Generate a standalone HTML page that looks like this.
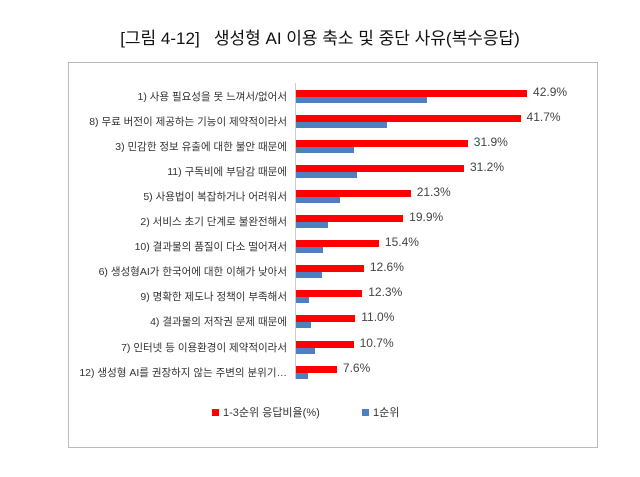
<!DOCTYPE html>
<html><head><meta charset="utf-8"><style>
body{margin:0;background:#fff;width:640px;height:477px;position:relative;overflow:hidden;font-family:"Liberation Sans","Noto Sans CJK KR",sans-serif}
.t{position:absolute;top:24px;left:0;width:640px;text-align:center;font-size:17px;color:#111}
.box{position:absolute;left:68px;top:62px;width:530px;height:386px;border:1px solid #bbb;box-sizing:border-box}
.l{position:absolute;right:353px;font-size:10.5px;color:#333;white-space:nowrap;text-align:right}
.r{position:absolute;left:296px;height:7px;background:#f00}
.b{position:absolute;left:296px;height:6px;background:#4f7fbf}
.v{position:absolute;font-size:12px;color:#444}
.ax{position:absolute;left:295px;top:83px;width:1px;height:296px;background:#ccc}
</style></head><body>
<div class="t">[그림 4-12]&nbsp;&nbsp; 생성형 AI 이용 축소 및 중단 사유(복수응답)</div>
<div class="box"></div>
<div class="ax"></div>
<div id="c"></div>
<div style="position:absolute;left:212px;top:409px;width:7px;height:7px;background:#f00"></div>
<div style="position:absolute;left:223px;top:404px;font-size:11px;color:#333">1-3순위 응답비율(%)</div>
<div style="position:absolute;left:362px;top:409px;width:7px;height:7px;background:#4f7fbf"></div>
<div style="position:absolute;left:373px;top:404px;font-size:11px;color:#333">1순위</div>
<script>
var d=[["1) 사용 필요성을 못 느껴서/없어서",42.9,427],["8) 무료 버전이 제공하는 기능이 제약적이라서",41.7,387],["3) 민감한 정보 유출에 대한 불안 때문에",31.9,354],["11) 구독비에 부담감 때문에",31.2,357],["5) 사용법이 복잡하거나 어려워서",21.3,340],["2) 서비스 초기 단계로 불완전해서",19.9,328],["10) 결과물의 품질이 다소 떨어져서",15.4,323],["6) 생성형AI가 한국어에 대한 이해가 낮아서",12.6,322],["9) 명확한 제도나 정책이 부족해서",12.3,309],["4) 결과물의 저작권 문제 때문에",11.0,311],["7) 인터넷 등 이용환경이 제약적이라서",10.7,315],["12) 생성형 AI를 권장하지 않는 주변의 분위기…",7.6,308]];
var h="";d.forEach(function(e,i){var y=90+i*25.05;var w=e[1]*5.385;
h+='<div class="l" style="top:'+(y-1)+'px">'+e[0]+'</div>';
h+='<div class="r" style="top:'+y+'px;width:'+w+'px"></div>';
h+='<div class="b" style="top:'+(y+7)+'px;width:'+(e[2]-296)+'px"></div>';
h+='<div class="v" style="top:'+(y-5)+'px;left:'+(302+w)+'px">'+e[1].toFixed(1)+'%</div>';});
document.getElementById("c").innerHTML=h;
</script>
</body></html>
